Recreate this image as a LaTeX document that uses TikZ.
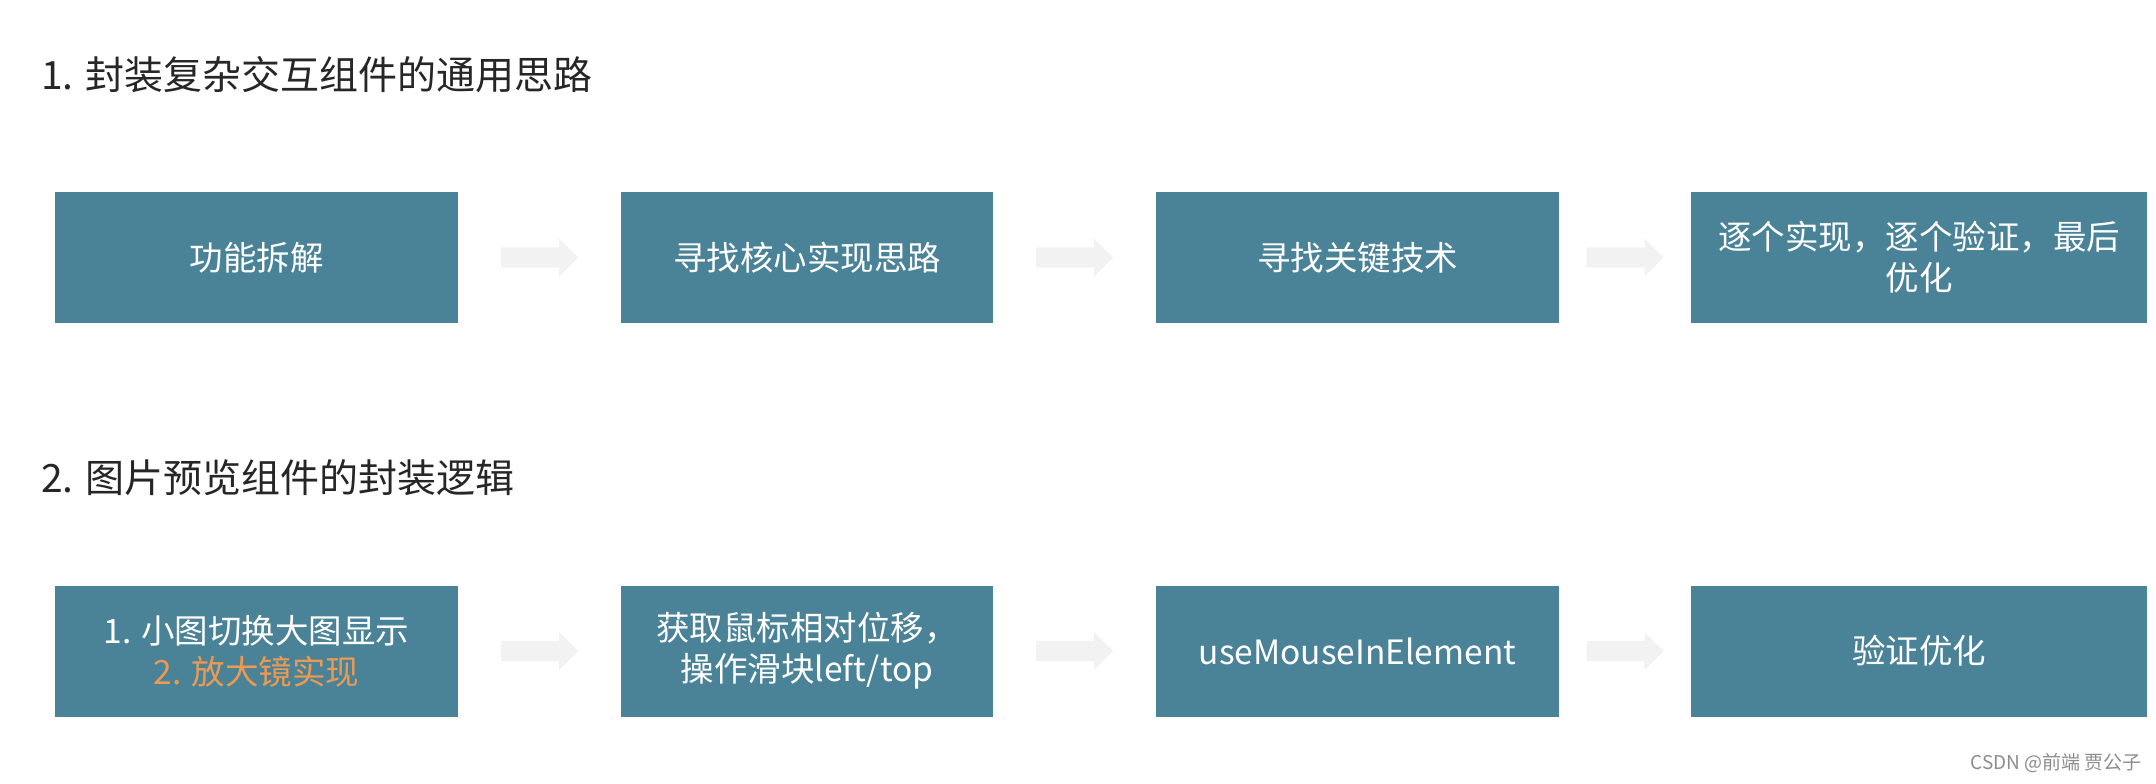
\documentclass[tikz,border=0pt]{standalone}
\usepackage{fontspec}
\setmainfont{Noto Sans CJK SC}
\usetikzlibrary{shapes,arrows,positioning,calc}
\definecolor{boxblue}{HTML}{4A8398}
\definecolor{hiorange}{HTML}{EB9A52}
\definecolor{titlegray}{HTML}{262626}
\definecolor{arrowgray}{HTML}{F2F2F2}

\begin{document}
\begin{tikzpicture}[x=1pt,y=-1pt,
    stepbox/.style={rectangle,fill=boxblue,text=white,align=center,minimum height=131pt,inner sep=0pt,font=\fontsize{33.5}{41}\selectfont},
    heading/.style={anchor=west,inner sep=0pt,text=titlegray,font=\fontsize{39}{47}\selectfont},
    flowarrow/.style={single arrow,fill=arrowgray,draw=none,anchor=tail,minimum height=77pt,inner xsep=0pt,inner ysep=10pt,single arrow head extend=9pt}]
    \useasboundingbox (0,0) rectangle (2156,784);
    % headings
    \node[heading] (t1) at (41,75) {1. 封装复杂交互组件的通用思路};
    \node[heading] (t2) at (41,478) {2. 图片预览组件的封装逻辑};
    % first row
    \node[stepbox,minimum width=403pt] (b1) at (256.5,257.5) {功能拆解};
    \node[stepbox,minimum width=372pt] (b2) at (807,257.5) {寻找核心实现思路};
    \node[stepbox,minimum width=403pt] (b3) at (1357.5,257.5) {寻找关键技术};
    \node[stepbox,minimum width=456pt] (b4) at (1919,257.5) {逐个实现，逐个验证，最后\\优化};
    \node[flowarrow] (a12) at ($(b1.east)!0.5!(b2.west)+(-38.5,0)$) {};
    \node[flowarrow] (a23) at ($(b2.east)!0.5!(b3.west)+(-38.5,0)$) {};
    \node[flowarrow] (a34) at ($(b3.east)!0.5!(b4.west)+(-38.5,0)$) {};
    % second row
    \node[stepbox,minimum width=403pt] (c1) at (256.5,651) {1. 小图切换大图显示\\\textcolor{hiorange}{2. 放大镜实现}};
    \node[stepbox,minimum width=372pt] (c2) at (807,651) {获取鼠标相对位移，\\操作滑块left/top};
    \node[stepbox,minimum width=403pt] (c3) at (1357.5,651) {useMouseInElement};
    \node[stepbox,minimum width=456pt] (c4) at (1919,651) {验证优化};
    \node[flowarrow] (d12) at ($(c1.east)!0.5!(c2.west)+(-38.5,0)$) {};
    \node[flowarrow] (d23) at ($(c2.east)!0.5!(c3.west)+(-38.5,0)$) {};
    \node[flowarrow] (d34) at ($(c3.east)!0.5!(c4.west)+(-38.5,0)$) {};
    % watermark
    \node[anchor=east,inner sep=0pt,text=black!45,font=\fontsize{19}{22}\selectfont] (wm) at (2142,763) {CSDN @前端 贾公子};
\end{tikzpicture}
\end{document}
